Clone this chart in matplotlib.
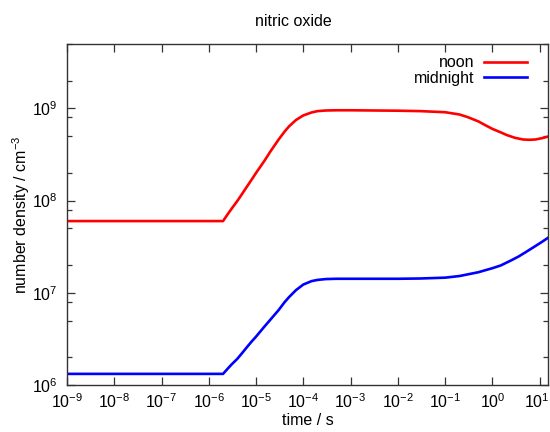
import numpy as np
import matplotlib
matplotlib.use("Agg")
import matplotlib.pyplot as plt
import matplotlib.transforms as mtransforms
from matplotlib.ticker import LogLocator, FixedLocator, NullFormatter

plt.rcParams["font.family"] = ["Liberation Sans", "DejaVu Sans"]
plt.rcParams["mathtext.default"] = "regular"

# time / s
t_noon = [1e-9, 1e-7, 2.0e-6, 2.5e-6, 3e-6, 4e-6, 5e-6, 6e-6, 8e-6, 1e-5,
          1.5e-5, 2e-5, 3e-5, 4e-5, 5e-5, 7e-5, 1e-4, 1.5e-4, 2e-4, 3e-4,
          5e-4, 1e-3, 1e-2, 3e-2, 0.1, 0.2, 0.3, 0.5, 0.7, 1.0, 1.5,
          2.0, 3.0, 4.5, 6.0, 8.0, 10.0, 12.0, 15.0]
noon = [6e7, 6e7, 6e7, 7.1e7, 8.1e7, 9.9e7, 1.17e8, 1.35e8, 1.68e8, 2.0e8,
        2.7e8, 3.4e8, 4.6e8, 5.6e8, 6.4e8, 7.5e8, 8.4e8, 9.05e8, 9.35e8, 9.5e8,
        9.55e8, 9.55e8, 9.45e8, 9.35e8, 9.1e8, 8.6e8, 8.05e8, 7.25e8, 6.6e8, 6.0e8, 5.5e8,
        5.15e8, 4.8e8, 4.6e8, 4.57e8, 4.6e8, 4.7e8, 4.8e8, 4.95e8]

t_midnight = [1e-9, 1e-7, 2.0e-6, 2.5e-6, 3e-6, 4e-6, 5e-6, 6e-6, 8e-6, 1e-5,
              1.5e-5, 2e-5, 3e-5, 4e-5, 5e-5, 7e-5, 1e-4, 1.5e-4, 2e-4, 3e-4,
              5e-4, 1e-3, 1e-2, 3e-2, 0.1, 0.2, 0.5, 1.0, 1.5, 2.5, 3.6,
              5.0, 8.0, 11.0, 15.0]
midnight = [1.32e6, 1.32e6, 1.32e6, 1.5e6, 1.66e6, 1.92e6, 2.2e6, 2.47e6, 2.95e6, 3.35e6,
            4.3e6, 5.1e6, 6.5e6, 7.9e6, 9.0e6, 1.07e7, 1.23e7, 1.34e7, 1.38e7, 1.41e7,
            1.42e7, 1.42e7, 1.42e7, 1.43e7, 1.46e7, 1.52e7, 1.67e7, 1.85e7, 1.98e7, 2.25e7, 2.48e7,
            2.75e7, 3.2e7, 3.55e7, 3.95e7]

fig = plt.figure(figsize=(5.5, 4.32), dpi=100)
ax = fig.add_axes([67 / 550, 47 / 432, 481 / 550, 341 / 432])

ax.plot(t_noon, noon, color="#ff0000", lw=1.9, label="noon")
ax.plot(t_midnight, midnight, color="#0000ff", lw=1.9, label="midnight")

ax.set_xscale("log")
ax.set_yscale("log")
ax.set_xlim(1e-9, 15)
ax.set_ylim(1e6, 5e9)

ax.xaxis.set_major_locator(LogLocator(base=10, numticks=20))
ax.xaxis.set_minor_locator(FixedLocator([]))
ax.yaxis.set_major_locator(LogLocator(base=10, numticks=10))
minors = [m * 10.0 ** e for e in range(6, 10) for m in (2, 5, 8)]
ax.yaxis.set_minor_locator(FixedLocator(minors))
ax.yaxis.set_minor_formatter(NullFormatter())

ax.tick_params(which="both", direction="in", top=True, right=True,
               labelsize=11.5, width=0.9, color="#333333")
ax.tick_params(which="major", length=6, pad=7)
ax.tick_params(axis="x", which="major", pad=5)
ax.tick_params(which="minor", length=3.5)
for s in ax.spines.values():
    s.set_linewidth(1.0)
    s.set_color("#333333")

ax.set_xlabel("time / s", fontsize=11.5)
ax.set_ylabel("number density / cm$^{-3}$", fontsize=11.5)
ax.xaxis.set_label_coords(0.5, -0.082)
ax.yaxis.set_label_coords(-0.073, 0.5)
fig.text(293 / 550, 1 - 21 / 432, "nitric oxide", ha="center", va="center",
         fontsize=11.5)

ax.legend(loc="upper right", frameon=False, markerfirst=False, fontsize=11.5,
          handlelength=2.7, handletextpad=0.6, labelspacing=0.05,
          borderaxespad=0.3, bbox_to_anchor=(0.98, 1.0))

# keep the last x tick label inside the canvas
fig.canvas.draw()
shift = mtransforms.ScaledTranslation(-2.5 / 100, 0, fig.dpi_scale_trans)
for tick in ax.xaxis.get_major_ticks():
    if np.isclose(tick.get_loc(), 10.0):
        tick.label1.set_transform(tick.label1.get_transform() + shift)

fig.savefig("out.png", dpi=100)
